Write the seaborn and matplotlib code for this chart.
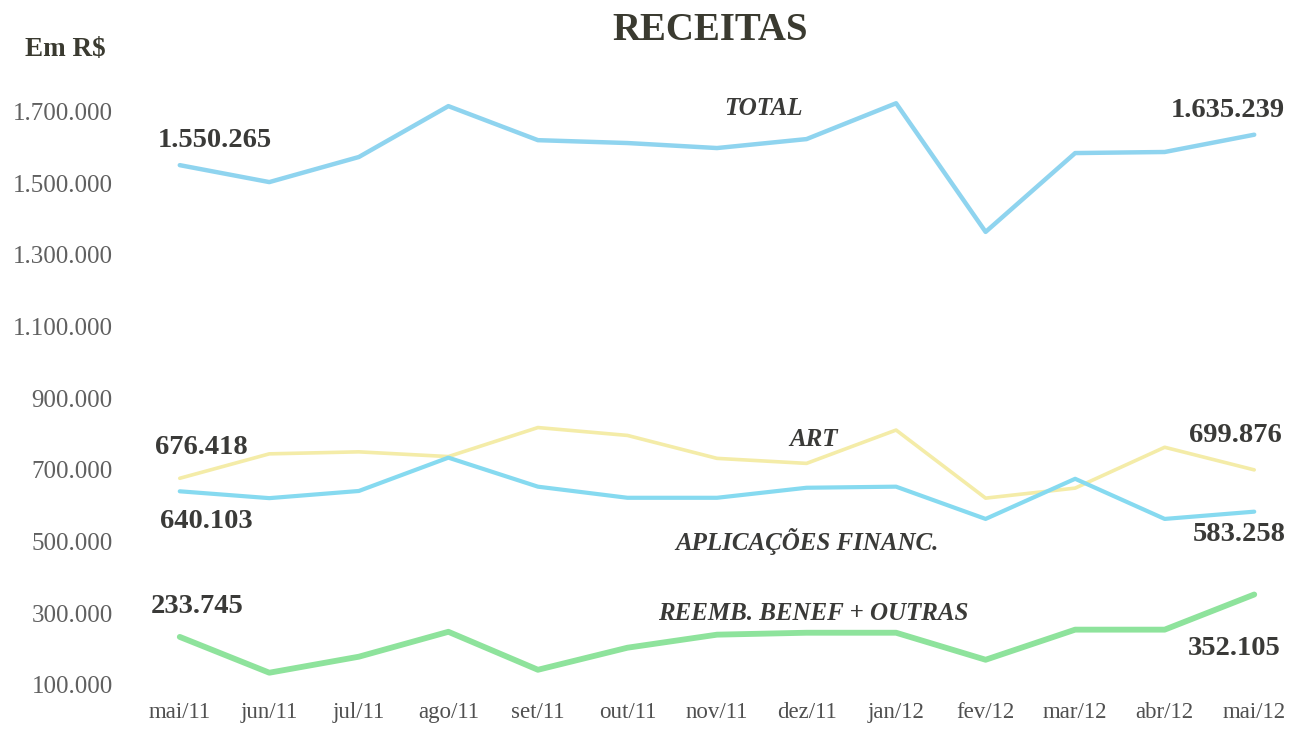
import matplotlib
matplotlib.use("Agg")
import matplotlib.pyplot as plt
import seaborn as sns
import pandas as pd

months = ["mai/11", "jun/11", "jul/11", "ago/11", "set/11", "out/11", "nov/11",
          "dez/11", "jan/12", "fev/12", "mar/12", "abr/12", "mai/12"]
total = [1550265, 1503000, 1573000, 1715000, 1620000, 1612000, 1598000,
         1623000, 1723000, 1364000, 1584000, 1587000, 1635239]
art = [676418, 744600, 750200, 737000, 818000, 796000, 732000,
       718000, 811000, 621000, 649000, 763000, 699876]
aplic = [640103, 621000, 641000, 734000, 653000, 622000, 622000,
         650000, 653000, 563000, 675000, 563000, 583258]
reemb = [233745, 133800, 178500, 248000, 142000, 203600, 240000,
         245400, 245400, 170000, 254000, 254000, 352105]
series_names = ["TOTAL", "ART", "APLICAÇÕES FINANC.", "REEMB. BENEF + OUTRAS"]
yticks = [100000, 300000, 500000, 700000, 900000, 1100000, 1300000, 1500000, 1700000]

def fmt(v):
    return f"{v:,.0f}".replace(",", ".")

rows = []
for name, vals in zip(series_names, [total, art, aplic, reemb]):
    for i, (m, v) in enumerate(zip(months, vals)):
        rows.append({"idx": i, "mes": m, "valor": v, "serie": name})
df = pd.DataFrame(rows)

sns.set_theme(style="white")
plt.rcParams["font.family"] = ["Liberation Serif", "DejaVu Serif"]

fig = plt.figure(figsize=(13.03, 7.29), dpi=100)
ax = fig.add_axes([135/1303, 1-692/729, (1299-135)/1303, (692-90)/729])

palette = {"TOTAL": "#8fd4ef", "ART": "#f4eca8",
           "APLICAÇÕES FINANC.": "#86daf0", "REEMB. BENEF + OUTRAS": "#8ee39c"}
widths = {"TOTAL": 3.2, "ART": 2.6, "APLICAÇÕES FINANC.": 3.0, "REEMB. BENEF + OUTRAS": 4.2}
for name in ["ART", "APLICAÇÕES FINANC.", "REEMB. BENEF + OUTRAS", "TOTAL"]:
    sub = df[df["serie"] == name]
    sns.lineplot(data=sub, x="idx", y="valor", color=palette[name],
                 linewidth=widths[name], ax=ax, legend=False)

ax.set_xlim(-0.5, 12.5)
ax.set_ylim(80000, 1760000)
ax.set_xticks(range(len(months)))
ax.set_xticklabels(months)
ax.set_yticks(yticks)
ax.set_yticklabels([fmt(v) for v in yticks])
ax.tick_params(axis="y", length=0, pad=16, labelsize=18, labelcolor="#606060")
ax.tick_params(axis="x", length=0, pad=7, labelsize=16.5, labelcolor="#505050")
ax.set_xlabel("")
ax.set_ylabel("")
for s in ax.spines.values():
    s.set_visible(False)

lab_kw = dict(textcoords="offset pixels", ha="center", va="center",
              fontsize=20.5, fontweight="bold", color="#3a3a38")
first, last = 0, len(months) - 1
ax.annotate(fmt(total[first]), (first, total[first]), xytext=(35, 25), **lab_kw)
ax.annotate(fmt(total[last]), (last, total[last]), xytext=(-26, 24), **lab_kw)
ax.annotate(fmt(art[first]), (first, art[first]), xytext=(22, 31), **lab_kw)
ax.annotate(fmt(art[last]), (last, art[last]), xytext=(-19, 34), **lab_kw)
ax.annotate(fmt(aplic[first]), (first, aplic[first]), xytext=(27, -30), **lab_kw)
ax.annotate(fmt(aplic[last]), (last, aplic[last]), xytext=(-15, -23), **lab_kw)
ax.annotate(fmt(reemb[first]), (first, reemb[first]), xytext=(17, 30), **lab_kw)
ax.annotate(fmt(reemb[last]), (last, reemb[last]), xytext=(-20, -54), **lab_kw)

name_kw = dict(ha="center", va="center", fontsize=18, fontweight="bold",
               fontstyle="italic", color="#3a3a38")
ax.text(6.52, 1709600, series_names[0], **name_kw)
ax.text(7.08, 783700, series_names[1], **name_kw)
ax.text(7.0, 499200, series_names[2], **name_kw)
ax.text(7.07, 298400, series_names[3], **name_kw)

fig.text(710/1303, 1-30/729, "RECEITAS", ha="center", va="center",
         fontsize=28, fontweight="bold", color="#3a3a30")
fig.text(65/1303, 1-50/729, "Em R$", ha="center", va="center",
         fontsize=19.5, fontweight="bold", color="#3a3a30")

fig.savefig("out.png", dpi=100, facecolor="white")
